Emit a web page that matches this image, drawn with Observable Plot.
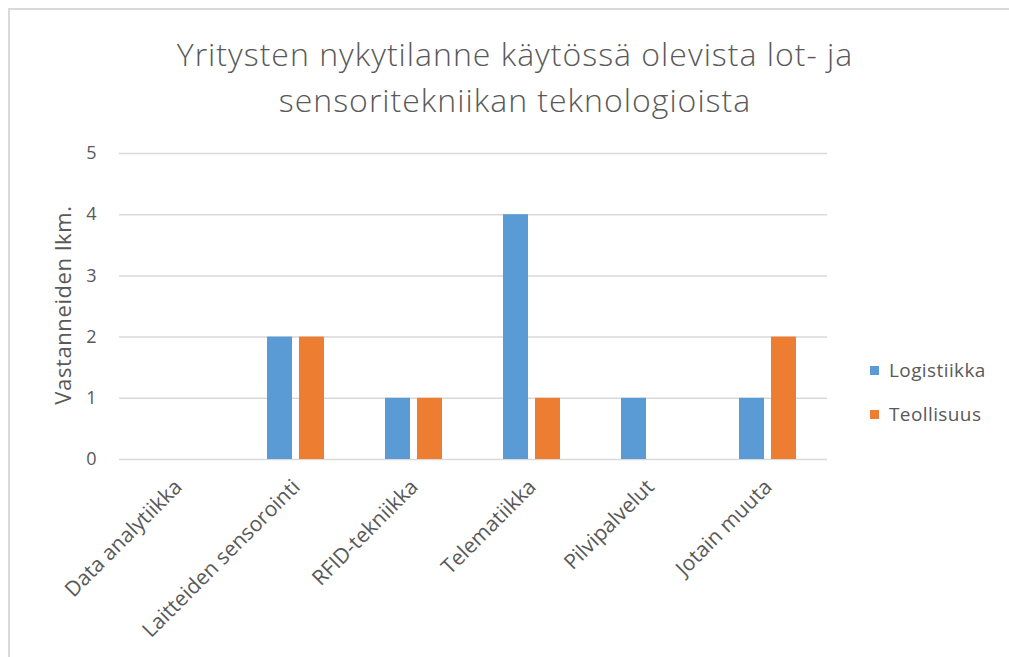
<!DOCTYPE html>
<html>
<head>
<meta charset="utf-8">
<script src="https://cdn.jsdelivr.net/npm/d3@7"></script>
<script src="https://cdn.jsdelivr.net/npm/@observablehq/plot@0.6"></script>
<style>
  html, body { margin: 0; padding: 0; background: #fff; }
  #wrap { position: relative; width: 1009px; height: 657px; overflow: hidden; font-family: "Open Sans", sans-serif; }
  #frame { position: absolute; left: 8px; top: 8px; width: 1100px; height: 700px; border-left: 2px solid #d9d9d9; border-top: 2px solid #d9d9d9; box-sizing: border-box; }
  #title { position: absolute; left: 0; top: 31px; width: 1030px; text-align: center; color: #595959; font-size: 32px; font-weight: 300; line-height: 46px; letter-spacing: 1px; }
  #chart { position: absolute; left: 0; top: 0; }
  #ylabel { position: absolute; left: 62px; top: 305px; transform: translate(-50%, -50%) rotate(-90deg); white-space: nowrap; color: #595959; font-size: 22px; letter-spacing: 0.6px; }
  .leg { position: absolute; left: 870px; color: #595959; font-size: 19px; letter-spacing: 0.4px; display: flex; align-items: center; }
  .leg span.sw { display: inline-block; width: 9px; height: 9px; margin-right: 10px; }
</style>
</head>
<body>
<div id="wrap">
  <div id="frame"></div>
  <div id="chart"></div>
  <div id="title">Yritysten nykytilanne käytössä olevista lot- ja<br>sensoritekniikan teknologioista</div>
  <div id="ylabel"></div>
  <div id="legend"></div>
</div>
<script>
const categories = ["Data analytiikka", "Laitteiden sensorointi", "RFID-tekniikka", "Telematiikka", "Pilvipalvelut", "Jotain muuta"];
const series = ["Logistiikka", "Teollisuus"];
const logistiikka = [0, 2, 1, 4, 1, 1];
const teollisuus = [0, 2, 1, 1, 0, 2];
const colors = ["#5B9BD5", "#ED7D31"];
const yTicks = [0, 1, 2, 3, 4, 5];
const yLabel = "Vastanneiden lkm.";

const data = [];
categories.forEach((c, i) => {
  data.push({category: c, series: series[0], value: logistiikka[i]});
  data.push({category: c, series: series[1], value: teollisuus[i]});
});

const chart = Plot.plot({
  width: 1009,
  height: 657,
  marginLeft: 118,
  marginRight: 181,
  marginTop: 153,
  marginBottom: 198,
  style: {fontFamily: "'Open Sans', sans-serif", color: "#595959", background: "transparent"},
  fx: {domain: categories, padding: 0, label: null},
  x: {domain: series, paddingInner: 0.21, paddingOuter: 0.9, axis: null},
  y: {domain: [0, 5], ticks: yTicks, label: null},
  color: {domain: series, range: colors},
  marks: [
    Plot.ruleY(yTicks, {stroke: "#d9d9d9", strokeWidth: 1.5}),
    Plot.barY(data, {fx: "category", x: "series", y: "value", fill: "series", filter: d => d.value > 0}),
    Plot.axisY({ticks: yTicks, tickFormat: "d", tickSize: 0, tickPadding: 23, fontSize: 18, label: null}),
    Plot.axisFx({anchor: "bottom", tickRotate: -45, tickSize: 0, tickPadding: 24, dx: 0, fontSize: 21, label: null})
  ]
});
chart.querySelectorAll("text").forEach(t => { t.setAttribute("fill", "#595959"); });
document.getElementById("chart").appendChild(chart);
document.getElementById("ylabel").textContent = yLabel;

const leg = document.getElementById("legend");
const legY = [370, 414];
series.forEach((s, i) => {
  const d = document.createElement("div");
  d.className = "leg";
  d.style.top = (legY[i] - 12) + "px";
  d.style.height = "24px";
  d.innerHTML = `<span class="sw" style="background:${colors[i]}"></span>${s}`;
  leg.appendChild(d);
});
</script>
</body>
</html>
